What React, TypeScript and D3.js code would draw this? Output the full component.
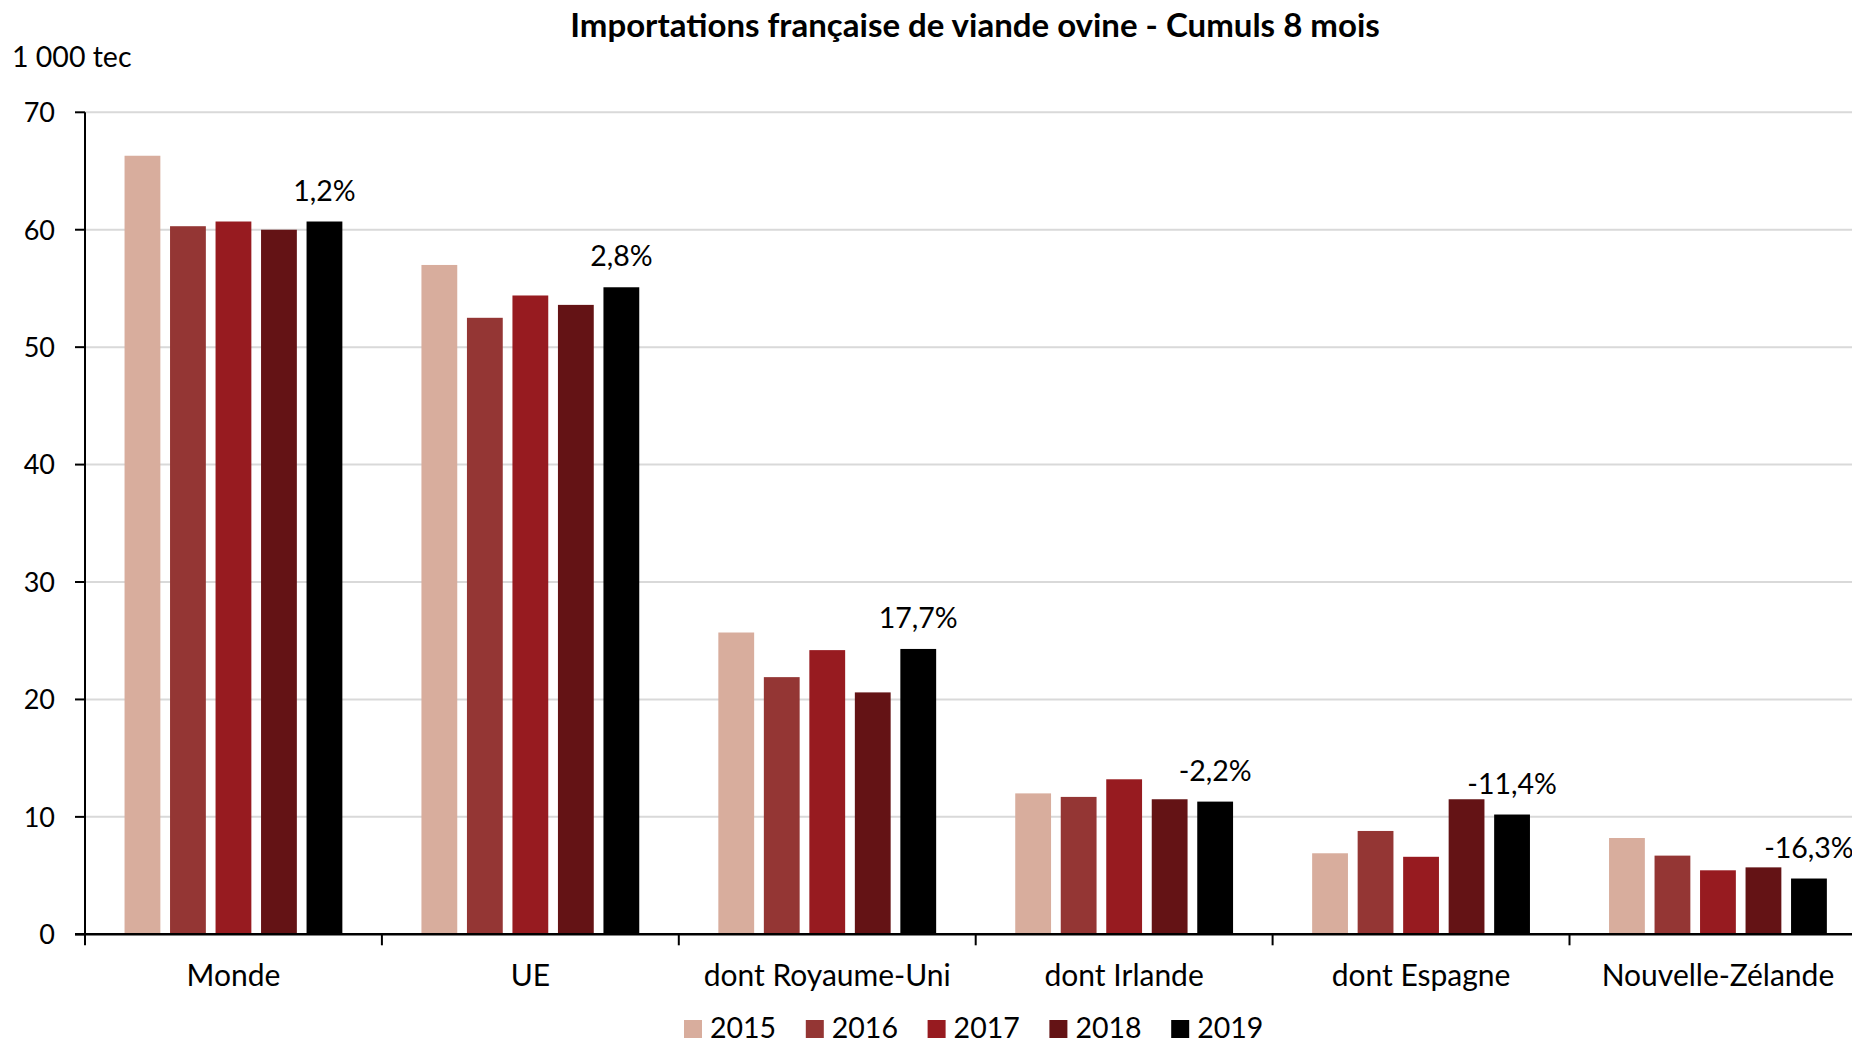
import React from "react";
import * as d3 from "d3";

const title = "Importations française de viande ovine - Cumuls 8 mois";
const unitLabel = "1 000 tec";
const categories = ["Monde", "UE", "dont Royaume-Uni", "dont Irlande", "dont Espagne", "Nouvelle-Zélande"];
const years = ["2015", "2016", "2017", "2018", "2019"];
const colors = ["#d8ad9d", "#943634", "#971b20", "#641315", "#000000"];
const values2015 = [66.3, 57.0, 25.7, 12.0, 6.9, 8.2];
const values2016 = [60.3, 52.5, 21.9, 11.7, 8.8, 6.7];
const values2017 = [60.7, 54.4, 24.2, 13.2, 6.6, 5.45];
const values2018 = [60.0, 53.6, 20.6, 11.5, 11.5, 5.7];
const values2019 = [60.7, 55.1, 24.3, 11.3, 10.2, 4.75];
const changeLabels = ["1,2%", "2,8%", "17,7%", "-2,2%", "-11,4%", "-16,3%"];
const yTicks = [0, 10, 20, 30, 40, 50, 60, 70];

const series = [values2015, values2016, values2017, values2018, values2019];

export default function App() {
  const W = 1852;
  const H = 1042;
  const left = 85;
  const bandW = 296.9;
  const top = 112.3;
  const bottom = 934.3;
  const font = "Lato, 'Open Sans', sans-serif";

  const x = d3.scaleBand<string>().domain(categories).range([left, left + bandW * categories.length]).paddingInner(0).paddingOuter(0);
  const xi = d3.scaleBand<string>().domain(years).range([0, bandW]).paddingInner(0.213).paddingOuter(0.869);
  const y = d3.scaleLinear().domain([0, 70]).range([bottom, top]);

  const legendX0 = 684;
  const legendStep = 121.8;

  return (
    <svg width={W} height={H} style={{ position: "absolute", left: 0, top: 0, background: "#fff" }} fontFamily={font}>
      <rect x={0} y={0} width={W} height={H} fill="#fff" />
      <text x={975} y={29} textAnchor="middle" dominantBaseline="middle" fontWeight="bold" fontSize={33}>{title}</text>
      <text x={12} y={60} dominantBaseline="middle" fontSize={28.5}>{unitLabel}</text>

      {yTicks.map((t) => (
        <g key={t}>
          {t > 0 && <line x1={left} x2={W} y1={y(t)} y2={y(t)} stroke="#d9d9d9" strokeWidth={2} />}
          <line x1={left - 10} x2={left} y1={y(t)} y2={y(t)} stroke="#000" strokeWidth={2} />
          <text x={55} y={y(t) + 3} textAnchor="end" dominantBaseline="middle" fontSize={27}>{t}</text>
        </g>
      ))}

      {categories.map((c, ci) => (
        <g key={c}>
          {years.map((yr, si) => {
            const v = series[si][ci];
            return (
              <rect key={yr} x={(x(c) as number) + (xi(yr) as number)} y={y(v)} width={xi.bandwidth()} height={y(0) - y(v)} fill={colors[si]} />
            );
          })}
          <text
            x={(x(c) as number) + (xi("2019") as number) + xi.bandwidth() / 2}
            y={y(series[4][ci]) - 28}
            textAnchor="middle"
            dominantBaseline="middle"
            fontSize={28.5}
          >
            {changeLabels[ci]}
          </text>
          <text x={(x(c) as number) + bandW / 2} y={978} textAnchor="middle" dominantBaseline="middle" fontSize={30}>{c}</text>
        </g>
      ))}

      <line x1={left} x2={left} y1={top} y2={bottom} stroke="#000" strokeWidth={2} />
      <line x1={left - 10} x2={left + bandW * categories.length} y1={bottom} y2={bottom} stroke="#000" strokeWidth={2.5} />
      {d3.range(categories.length + 1).map((i) => (
        <line key={i} x1={left + i * bandW} x2={left + i * bandW} y1={bottom} y2={bottom + 11} stroke="#000" strokeWidth={2} />
      ))}

      {years.map((yr, i) => (
        <g key={yr} transform={`translate(${legendX0 + i * legendStep},1029)`}>
          <rect x={0} y={-9} width={18} height={18} fill={colors[i]} />
          <text x={26} y={2} dominantBaseline="middle" fontSize={28.5}>{yr}</text>
        </g>
      ))}
    </svg>
  );
}
